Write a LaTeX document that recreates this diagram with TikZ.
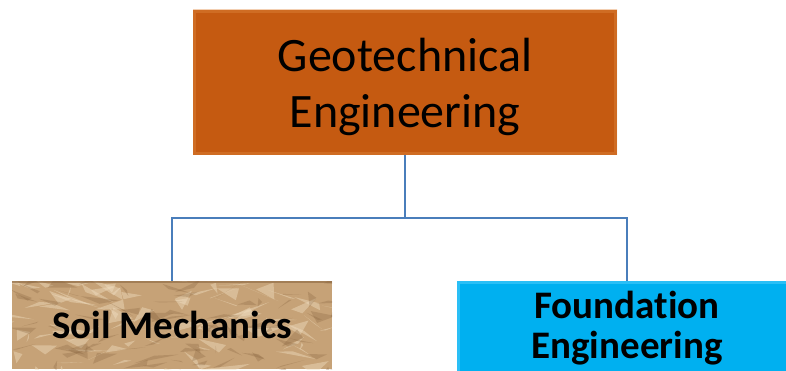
\documentclass[tikz,border=0pt]{standalone}
\usepackage{fontspec}
\setmainfont{Carlito}[Ligatures=NoCommon]
\usepackage{tikz}
\usetikzlibrary{calc}

\definecolor{geoorange}{HTML}{C55A11}
\definecolor{geoedge}{HTML}{E0873F}
\definecolor{soiltan}{HTML}{C6A277}
\definecolor{soildark}{HTML}{8A6640}
\definecolor{soillight}{HTML}{F0DDBF}
\definecolor{foundcyan}{HTML}{00B0F0}
\definecolor{foundedge}{HTML}{6AD6FF}
\definecolor{connblue}{HTML}{4A7EBB}

\tikzset{
  bevel/.style={path picture={
      \draw[#1,line width=6pt,opacity=.4]
        (path picture bounding box.south west) rectangle (path picture bounding box.north east);}},
  topbox/.style={fill=geoorange,bevel=geoedge,inner sep=0pt,align=center,
    font=\fontsize{48}{56}\selectfont},
  subbox/.style={inner sep=0pt,align=center,font=\bfseries\fontsize{39}{40}\selectfont},
  conn/.style={draw=connblue,line width=1.5pt}
}

\begin{document}
\begin{tikzpicture}[x=1pt,y=-1pt]
        \useasboundingbox (0,0) rectangle (786,371);
        \clip (0,0) rectangle (786,371);
        \pgfmathsetseed{11}
        %% Boxes.
        \node[topbox,text depth=0pt,minimum width=424pt,minimum height=145pt] (geo) at (405,82.5)
          {Geotechnical\\Engineering};
        \node[subbox,fill=soiltan,minimum width=320pt,minimum height=88pt,
          path picture={
            \foreach \k in {1,...,90}
              \fill[soillight,opacity=.45]
                ($(path picture bounding box.north west)+(rnd*330,rnd*95)$) -- ++(rand*30,rand*12)
                -- ++(rand*30,rand*12) -- cycle;
            \foreach \k in {1,...,80}
              \fill[soildark,opacity=.3]
                ($(path picture bounding box.north west)+(rnd*330,rnd*95)$) -- ++(rand*25,rand*10)
                -- ++(rand*25,rand*10) -- cycle;
            \draw[soildark,opacity=.6,line width=4pt]
              (path picture bounding box.north west) -- (path picture bounding box.north east);}]
          (soil) at (172,325) {Soil Mechanics};
        \node[subbox,fill=foundcyan,bevel=foundedge,minimum width=340pt,minimum height=94pt]
          (found) at (627,328) {Foundation\\Engineering};
        %% Connectors.
        \draw[conn] (geo.south) -- ++(0,63) -| (soil.north);
        \draw[conn] (geo.south) -- ++(0,63) -| (found.north);
      \end{tikzpicture}
\end{document}
